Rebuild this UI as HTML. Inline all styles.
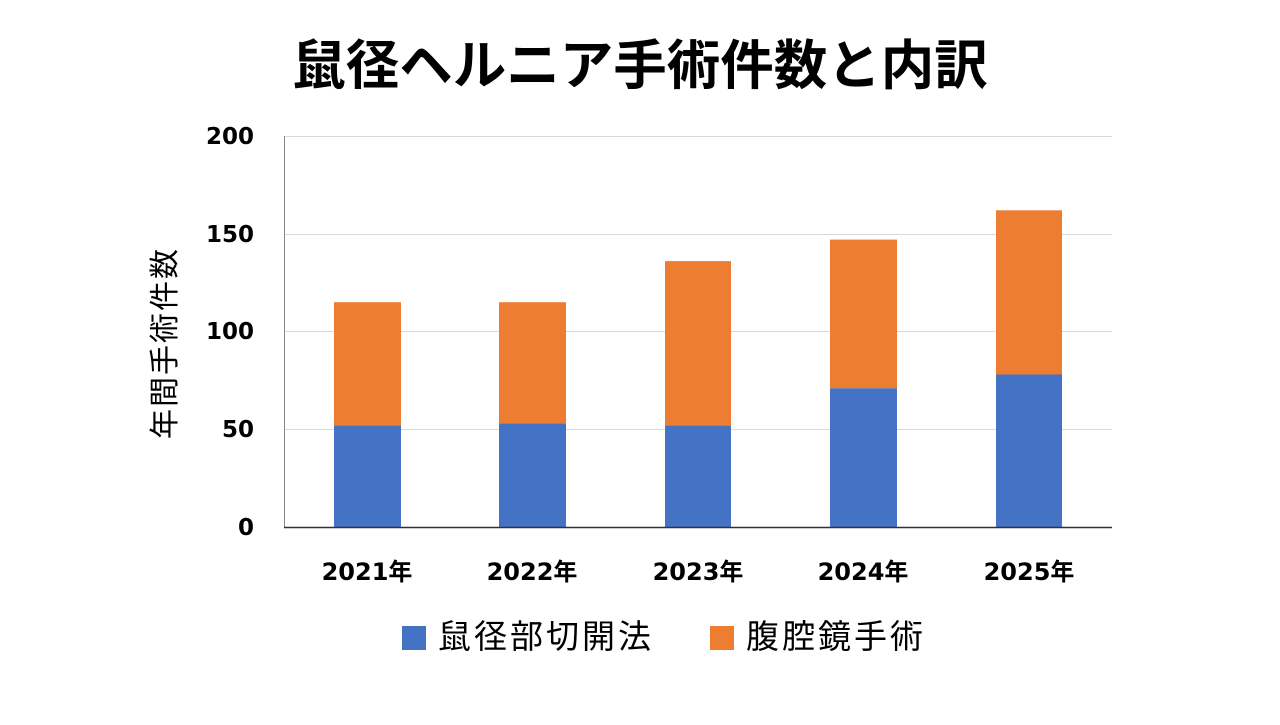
<!DOCTYPE html>
<html><head><meta charset="utf-8"><style>
body{margin:0;width:1280px;height:720px;background:#fff;overflow:hidden;font-family:"Liberation Sans","Noto Sans CJK JP",sans-serif;}
</style></head><body>
<svg width="1280" height="720" xmlns="http://www.w3.org/2000/svg" style="font-family:'Liberation Sans','Noto Sans CJK JP',sans-serif">
<text x="640" y="84" text-anchor="middle" font-size="53.5" font-weight="bold" fill="#000">鼠径ヘルニア手術件数と内訳</text>
<g stroke="#d9d9d9" stroke-width="1">
<line x1="285" y1="136.5" x2="1112" y2="136.5"/>
<line x1="285" y1="234.5" x2="1112" y2="234.5"/>
<line x1="285" y1="331.5" x2="1112" y2="331.5"/>
<line x1="285" y1="429.5" x2="1112" y2="429.5"/>
</g>
<line x1="284.5" y1="136" x2="284.5" y2="527" stroke="#888" stroke-width="1"/>
<g fill="#4472C4">
<rect x="334" y="425.3" width="67" height="101.7"/>
<rect x="499" y="423.4" width="67" height="103.6"/>
<rect x="665" y="425.3" width="66" height="101.7"/>
<rect x="830" y="388.2" width="67" height="138.8"/>
<rect x="996" y="374.5" width="66" height="152.5"/>
</g>
<g fill="#ED7D31">
<rect x="334" y="302.2" width="67" height="123.1"/>
<rect x="499" y="302.2" width="67" height="121.2"/>
<rect x="665" y="261.1" width="66" height="164.2"/>
<rect x="830" y="239.6" width="67" height="148.6"/>
<rect x="996" y="210.3" width="66" height="164.2"/>
</g>
<line x1="284" y1="527.5" x2="1112" y2="527.5" stroke="#333" stroke-width="1.5"/>
<g font-size="23" font-weight="bold" text-anchor="end" fill="#000" style="font-family:'DejaVu Sans','Noto Sans CJK JP',sans-serif">
<text x="254" y="144">200</text>
<text x="254" y="242">150</text>
<text x="254" y="339">100</text>
<text x="254" y="437">50</text>
<text x="254" y="535">0</text>
</g>
<g font-size="24" font-weight="bold" text-anchor="middle" fill="#000" style="font-family:'DejaVu Sans','Noto Sans CJK JP',sans-serif">
<text x="367" y="580">2021年</text>
<text x="532" y="580">2022年</text>
<text x="698" y="580">2023年</text>
<text x="863" y="580">2024年</text>
<text x="1029" y="580">2025年</text>
</g>
<text transform="translate(175,343) rotate(-90)" text-anchor="middle" font-size="30" letter-spacing="2" fill="#000">年間手術件数</text>
<rect x="402" y="626" width="24" height="24" fill="#4472C4"/>
<text x="438" y="648" font-size="33" letter-spacing="3" fill="#000">鼠径部切開法</text>
<rect x="710" y="626" width="24" height="24" fill="#ED7D31"/>
<text x="746" y="648" font-size="33" letter-spacing="3" fill="#000">腹腔鏡手術</text>
</svg>
</body></html>
